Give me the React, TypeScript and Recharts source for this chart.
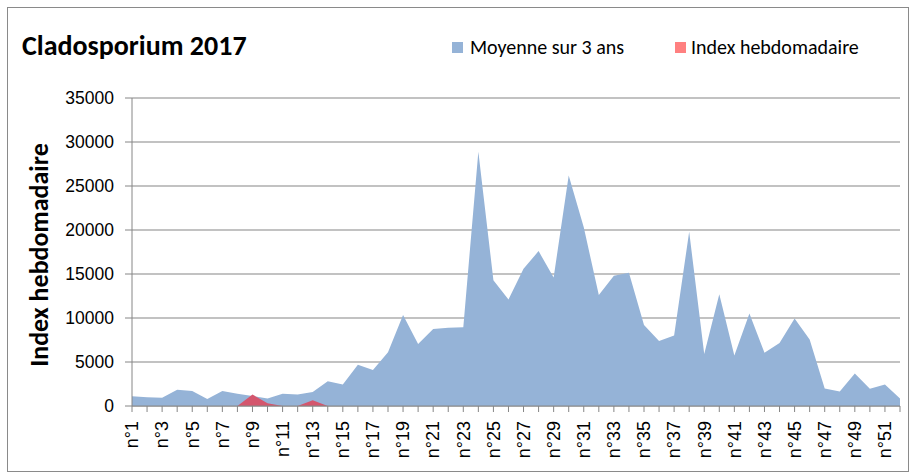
import { AreaChart, Area, XAxis, YAxis, CartesianGrid } from 'recharts';

const weeks = [
  'n°1', 'n°2', 'n°3', 'n°4', 'n°5', 'n°6', 'n°7', 'n°8', 'n°9', 'n°10',
  'n°11', 'n°12', 'n°13', 'n°14', 'n°15', 'n°16', 'n°17', 'n°18', 'n°19', 'n°20',
  'n°21', 'n°22', 'n°23', 'n°24', 'n°25', 'n°26', 'n°27', 'n°28', 'n°29', 'n°30',
  'n°31', 'n°32', 'n°33', 'n°34', 'n°35', 'n°36', 'n°37', 'n°38', 'n°39', 'n°40',
  'n°41', 'n°42', 'n°43', 'n°44', 'n°45', 'n°46', 'n°47', 'n°48', 'n°49', 'n°50',
  'n°51', 'n°52',
];

// moyenne sur 3 ans
const moyenne = [
  1100, 1000, 950, 1850, 1700, 800, 1700, 1400, 1150, 850,
  1400, 1300, 1600, 2800, 2450, 4700, 4100, 6100, 10350, 7050,
  8750, 8900, 8950, 28900, 14300, 12100, 15600, 17600, 14600, 26200,
  20300, 12600, 14800, 15150, 9200, 7400, 8000, 19800, 5900, 12700,
  5750, 10500, 6050, 7150, 9950, 7550, 2000, 1650, 3700, 1950,
  2450, 850,
];

// index hebdomadaire 2017 (only the first weeks are available)
const hebdo = [
  0, 0, 0, 0, 0, 0, 0, 0, 1300, 320,
  0, 0, 650, 0,
];

const yTicks = [0, 5000, 10000, 15000, 20000, 25000, 30000, 35000];

const data = weeks.map((week, i) => ({
  week,
  moyenne: moyenne[i],
  hebdo: i < hebdo.length ? hebdo[i] : null,
}));

const GRID = '#868686';
const BLUE = '#95B3D7';
const RED = '#D4566D';
const RED_LEGEND = '#FF8080';
const tickFont = '"Liberation Sans", Arial, sans-serif';
const labelFont = 'Carlito, Calibri, Lato, sans-serif';

function WeekTick(props: any) {
  const { x, y, payload, index } = props;
  if (index % 2 !== 0) return <g />;
  return (
    <text
      x={x}
      y={y}
      transform={`rotate(-90 ${x} ${y})`}
      textAnchor="end"
      dy="0.35em"
      fontSize={18}
      fontFamily={tickFont}
      fill="#000"
    >
      {payload.value}
    </text>
  );
}

function YLabel() {
  return (
    <text
      x={31}
      y={247}
      transform="rotate(-90 31 247)"
      textAnchor="middle"
      dy="0.35em"
      fontSize={26}
      fontWeight="bold"
      fontFamily={labelFont}
      fill="#000"
    >
      Index hebdomadaire
    </text>
  );
}

const legendText = {
  position: 'absolute' as const,
  top: 27,
  height: 24,
  lineHeight: '24px',
  fontSize: 20,
  fontFamily: labelFont,
  color: '#000',
  whiteSpace: 'nowrap' as const,
};

export default function App() {
  return (
    <div
      style={{
        position: 'absolute',
        left: 7,
        top: 7,
        width: 902,
        height: 465,
        boxSizing: 'border-box',
        border: '1px solid #8a8a8a',
        background: '#fff',
      }}
    >
      <div
        style={{
          position: 'absolute',
          left: 14,
          top: 23,
          height: 30,
          lineHeight: '30px',
          fontSize: 28,
          fontWeight: 'bold',
          fontFamily: labelFont,
          color: '#000',
          whiteSpace: 'nowrap',
        }}
      >
        Cladosporium 2017
      </div>
      <div style={{ position: 'absolute', left: 444, top: 34, width: 11, height: 11, background: BLUE }} />
      <div style={{ ...legendText, left: 462 }}>Moyenne sur 3 ans</div>
      <div style={{ position: 'absolute', left: 667, top: 34, width: 11, height: 11, background: RED_LEGEND }} />
      <div style={{ ...legendText, left: 683 }}>Index hebdomadaire</div>
      <AreaChart
        width={900}
        height={463}
        data={data}
        margin={{ top: 90, right: 8, left: 64, bottom: 15 }}
      >
        <CartesianGrid vertical={false} stroke={GRID} strokeWidth={1.2} />
        <XAxis
          dataKey="week"
          interval={0}
          height={50}
          tick={<WeekTick />}
          tickSize={6}
          tickMargin={9}
          axisLine={{ stroke: GRID }}
          tickLine={{ stroke: GRID }}
        />
        <YAxis
          domain={[0, 35000]}
          ticks={yTicks}
          width={60}
          tickSize={7}
          tickMargin={11}
          axisLine={{ stroke: GRID }}
          tickLine={{ stroke: GRID }}
          tick={{ fontSize: 17.5, fontFamily: tickFont, fill: '#000' }}
          label={<YLabel />}
        />
        <Area
          type="linear"
          dataKey="moyenne"
          name="Moyenne sur 3 ans"
          fill={BLUE}
          fillOpacity={1}
          stroke="none"
          dot={false}
          activeDot={false}
          isAnimationActive={false}
        />
        <Area
          type="linear"
          dataKey="hebdo"
          name="Index hebdomadaire"
          fill={RED}
          fillOpacity={1}
          stroke="none"
          dot={false}
          activeDot={false}
          isAnimationActive={false}
        />
      </AreaChart>
    </div>
  );
}
